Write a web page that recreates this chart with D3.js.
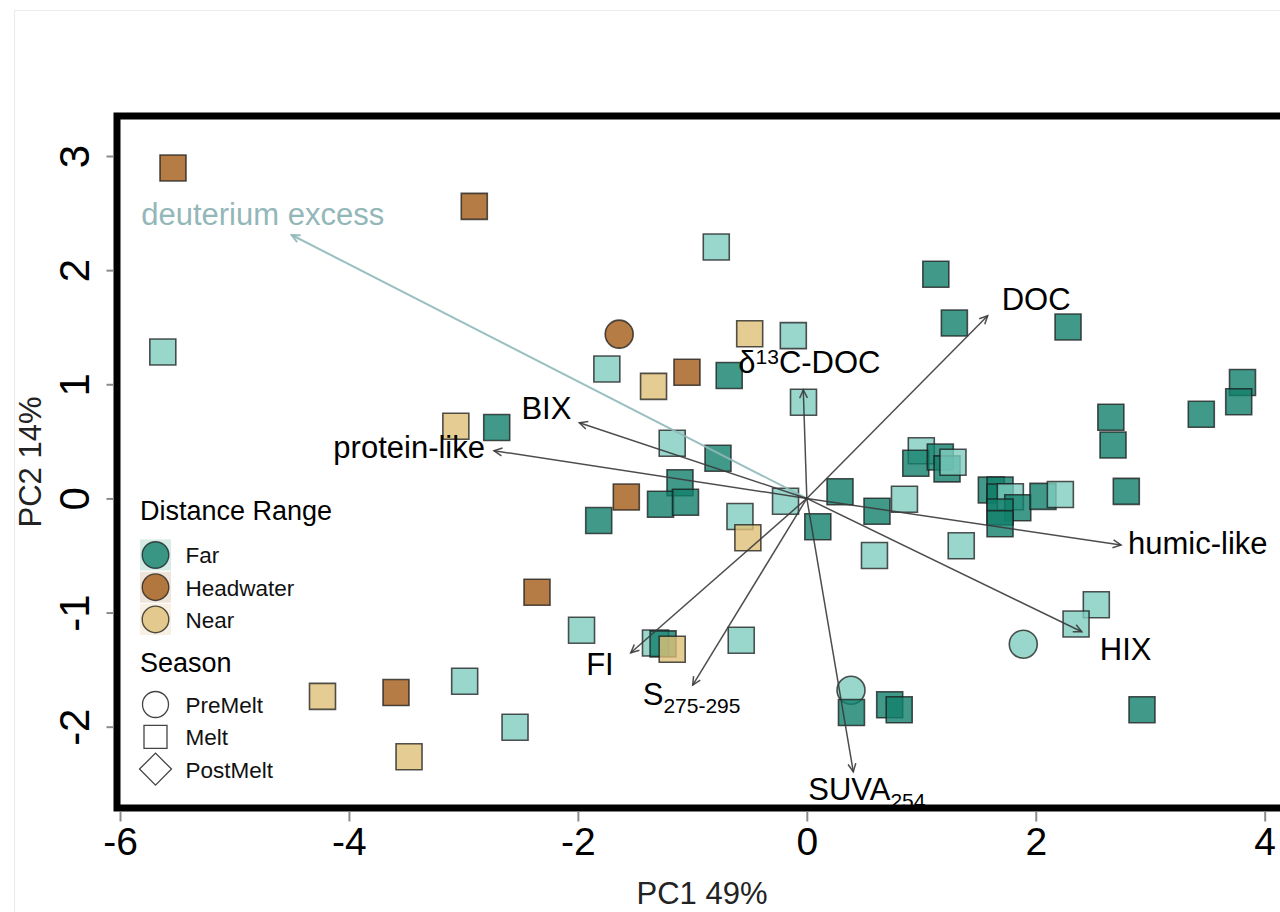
<!DOCTYPE html>
<html>
<head>
<meta charset="utf-8">
<script src="https://cdn.jsdelivr.net/npm/d3@7"></script>
<style>
  body { margin: 0; background: #fff; }
  svg { display: block; }
  text { font-family: "Liberation Sans", Arial, Helvetica, sans-serif; }
</style>
</head>
<body>
<svg id="chart" width="1280" height="912"></svg>
<script>
// ---- PCA scores for each sample ----
const pc1 = [-5.537, -2.905, -0.791, 1.127, -5.626, -1.639, -0.499, -0.118, 1.289, 2.282,
  -1.747, -1.339, -1.047, -0.678, 3.806, 3.773, 3.446, -0.029, 2.656, 2.675,
  -3.066, -2.709, -1.176, -0.776, 1.000, 0.952, 1.166, 1.225, 1.277, -1.108,
  -1.278, -1.060, -1.577, -1.818, -0.186, -0.584, -0.515, 0.096, 0.290, 0.613,
  0.853, 0.591, 1.349, 1.612, 1.688, 1.688, 1.778, 1.843, 1.688, 1.688,
  2.063, 2.215, 2.791, 2.529, 2.352, 1.891, -2.357, -1.968, -1.322, -1.256,
  -1.176, -0.573, 0.386, 0.390, 0.724, 0.807, 2.928, -2.989, -2.549, -4.231,
  -3.589, -3.475];
const pc2 = [2.895, 2.559, 2.203, 1.964, 1.283, 1.439, 1.443, 1.426, 1.537, 1.502,
  1.134, 0.982, 1.105, 1.077, 1.016, 0.847, 0.737, 0.843, 0.711, 0.468,
  0.632, 0.621, 0.483, 0.352, 0.417, 0.308, 0.363, 0.259, 0.317, 0.137,
  -0.051, -0.033, 0.012, -0.194, -0.025, -0.159, -0.345, -0.248, 0.059, -0.112,
  -0.007, -0.500, -0.415, 0.074, 0.074, 0.012, 0.015, -0.082, -0.119, -0.222,
  0.018, 0.034, 0.062, -0.931, -1.100, -1.277, -0.822, -1.155, -1.267, -1.274,
  -1.322, -1.243, -1.681, -1.876, -1.808, -1.852, -1.851, -1.602, -2.005, -1.734,
  -1.701, -2.263];
const distance = ["Headwater", "Headwater", "Far", "Far", "Far", "Headwater", "Near", "Far", "Far", "Far",
  "Far", "Near", "Headwater", "Far", "Far", "Far", "Far", "Far", "Far", "Far",
  "Near", "Far", "Far", "Far", "Far", "Far", "Far", "Far", "Far", "Far",
  "Far", "Far", "Headwater", "Far", "Far", "Far", "Near", "Far", "Far", "Far",
  "Far", "Far", "Far", "Far", "Far", "Far", "Far", "Far", "Far", "Far",
  "Far", "Far", "Far", "Far", "Far", "Far", "Headwater", "Far", "Far", "Far",
  "Near", "Far", "Far", "Far", "Far", "Far", "Far", "Far", "Far", "Near",
  "Headwater", "Near"];
const season = ["Melt", "Melt", "Melt", "Melt", "Melt", "PreMelt", "Melt", "Melt", "Melt", "Melt",
  "Melt", "Melt", "Melt", "Melt", "Melt", "Melt", "Melt", "Melt", "Melt", "Melt",
  "Melt", "Melt", "Melt", "Melt", "Melt", "Melt", "Melt", "Melt", "Melt", "Melt",
  "Melt", "Melt", "Melt", "Melt", "Melt", "Melt", "Melt", "Melt", "Melt", "Melt",
  "Melt", "Melt", "Melt", "Melt", "Melt", "Melt", "Melt", "Melt", "Melt", "Melt",
  "Melt", "Melt", "Melt", "Melt", "Melt", "PreMelt", "Melt", "Melt", "Melt", "Melt",
  "Melt", "Melt", "PreMelt", "Melt", "Melt", "Melt", "Melt", "Melt", "Melt", "Melt",
  "Melt", "Melt"];
// sampling cohort (1 = first, 2 = second) – shown as a lighter tint for far sites
const cohort = [1, 1, 2, 1, 2, 1, 1, 2, 1, 1,
  2, 1, 1, 1, 1, 1, 1, 2, 1, 1,
  1, 1, 2, 1, 2, 1, 1, 1, 2, 1,
  1, 1, 1, 1, 2, 2, 1, 1, 1, 1,
  2, 2, 2, 1, 1, 1, 2, 1, 1, 1,
  1, 2, 1, 2, 2, 2, 1, 2, 2, 1,
  1, 2, 2, 1, 1, 1, 1, 2, 2, 1,
  1, 1];

// ---- variable loadings (arrow tips in PC space) ----
const loadingNames = ["deuterium excess", "DOC", "δ^{13}C-DOC", "BIX", "protein-like",
  "humic-like", "HIX", "FI", "S_{275-295}", "SUVA_{254}"];
const loadingPC1 = [-4.500, 1.580, -0.031, -1.987, -2.733, 2.745, 2.402, -1.538, -0.997, 0.406];
const loadingPC2 = [2.308, 1.601, 0.950, 0.663, 0.418, -0.408, -1.168, -1.352, -1.635, -2.395];

// ---- axes & legend ----
const xTicks = [-6, -4, -2, 0, 2, 4];
const yTicks = [-2, -1, 0, 1, 2, 3];
const distanceLevels = ["Far", "Headwater", "Near"];
const seasonLevels = ["PreMelt", "Melt", "PostMelt"];

const svg = d3.select("#chart");

// scales
const x = d3.scaleLinear().domain([-6, 4]).range([120, 1264.7]);
const y = d3.scaleLinear().domain([-2, 3]).range([726.7, 156]);

const panel = { left: 117, top: 116, right: 1293, bottom: 808 };

// styling lookups
const fillColor = d => {
  if (d.distance === "Far") return d.cohort === 2 ? "#80cdc1" : "#127f6b";
  return d.distance === "Headwater" ? "#a35b17" : "#ddbf77";
};
const legendFill = { Far: "#127f6b", Headwater: "#a35b17", Near: "#ddbf77" };
const legendKeyBg = { Far: "#d6ebe6", Headwater: "#eee4da", Near: "#f7f0e3" };
const shapeOf = { PreMelt: d3.symbolCircle, Melt: d3.symbolSquare, PostMelt: d3.symbolSquare };
const shapeArea = { PreMelt: Math.PI * 14 * 14, Melt: 26 * 26, PostMelt: 26 * 26 };

// faint page frame
svg.append("line").attr("x1", 14.5).attr("x2", 14.5).attr("y1", 10.5).attr("y2", 912)
  .attr("stroke", "#ececec").attr("stroke-width", 1.2);
svg.append("line").attr("x1", 14.5).attr("x2", 1280).attr("y1", 10.5).attr("y2", 10.5)
  .attr("stroke", "#ececec").attr("stroke-width", 1.2);

// ---- sample points ----
const samples = pc1.map((v, i) => ({
  pc1: v, pc2: pc2[i], distance: distance[i], season: season[i], cohort: cohort[i]
}));

svg.append("g").selectAll("path").data(samples).join("path")
  .attr("d", d => d3.symbol().type(shapeOf[d.season]).size(shapeArea[d.season])())
  .attr("transform", d => `translate(${x(d.pc1)},${y(d.pc2)})`)
  .attr("fill", fillColor)
  .attr("fill-opacity", 0.8)
  .attr("stroke", "#1a1a1a")
  .attr("stroke-opacity", 0.75)
  .attr("stroke-width", 1.6);

// ---- loading arrows ----
const loadings = loadingNames.map((n, i) => ({ name: n, pc1: loadingPC1[i], pc2: loadingPC2[i] }));
const labelPlacement = {
  "deuterium excess": { anchor: "middle", dx: -29, dy: -10 },
  "DOC": { anchor: "start", dx: 14, dy: -6 },
  "δ^{13}C-DOC": { anchor: "start", dx: -65, dy: -17 },
  "BIX": { anchor: "end", dx: -8, dy: -4 },
  "protein-like": { anchor: "end", dx: -9, dy: 7 },
  "humic-like": { anchor: "start", dx: 7, dy: 9 },
  "HIX": { anchor: "start", dx: 18, dy: 28 },
  "FI": { anchor: "end", dx: -17, dy: 22 },
  "S_{275-295}": { anchor: "start", dx: -50, dy: 20 },
  "SUVA_{254}": { anchor: "start", dx: -45, dy: 28 }
};
const arrowColor = n => n === "deuterium excess" ? "#8fb8b8" : "#3a3a3a";

const gArrows = svg.append("g");
const ox = x(0), oy = y(0);
loadings.forEach(d => {
  const tx = x(d.pc1), ty = y(d.pc2);
  const ang = Math.atan2(ty - oy, tx - ox);
  const col = arrowColor(d.name);
  const g = gArrows.append("g").attr("stroke", col).attr("fill", "none")
    .attr("stroke-width", d.name === "deuterium excess" ? 2 : 1.5)
    .attr("stroke-opacity", 0.9);
  g.append("line").attr("x1", ox).attr("y1", oy).attr("x2", tx).attr("y2", ty);
  const head = 9, spread = Math.PI / 7;
  const p1 = [tx - head * Math.cos(ang - spread), ty - head * Math.sin(ang - spread)];
  const p2 = [tx - head * Math.cos(ang + spread), ty - head * Math.sin(ang + spread)];
  g.append("path").attr("d", `M${p1[0]},${p1[1]}L${tx},${ty}L${p2[0]},${p2[1]}`)
    .attr("stroke-linejoin", "miter");
});

// labels with sub/superscripts written as _{..} and ^{..}
function labelParts(s) {
  const out = [];
  const re = /([_^])\{([^}]*)\}/g;
  let last = 0, m;
  while ((m = re.exec(s)) !== null) {
    if (m.index > last) out.push({ t: s.slice(last, m.index), k: "base" });
    out.push({ t: m[2], k: m[1] === "_" ? "sub" : "sup" });
    last = re.lastIndex;
  }
  if (last < s.length) out.push({ t: s.slice(last), k: "base" });
  return out;
}

const gLabels = svg.append("g");
loadings.forEach(d => {
  const pl = labelPlacement[d.name];
  const txt = gLabels.append("text")
    .attr("x", x(d.pc1) + pl.dx).attr("y", y(d.pc2) + pl.dy)
    .attr("text-anchor", pl.anchor)
    .attr("font-size", 31)
    .attr("fill", d.name === "deuterium excess" ? "#93b7b8" : "#000");
  let shift = 0;
  labelParts(d.name).forEach(p => {
    const target = p.k === "sub" ? 8 : p.k === "sup" ? -9 : 0;
    txt.append("tspan")
      .attr("dy", target - shift)
      .attr("font-size", p.k === "base" ? 31 : 21)
      .text(p.t);
    shift = target;
  });
});

// ---- legend ----
const gLeg = svg.append("g");
gLeg.append("text").attr("x", 140).attr("y", 520).attr("font-size", 27).text("Distance Range");
distanceLevels.forEach((lv, i) => {
  const cy = 555 + i * 32.2;
  gLeg.append("rect").attr("x", 140).attr("y", cy - 15.5).attr("width", 31).attr("height", 31)
    .attr("fill", legendKeyBg[lv]);
  gLeg.append("path")
    .attr("d", d3.symbol().type(d3.symbolCircle).size(Math.PI * 13.3 * 13.3)())
    .attr("transform", `translate(155.5,${cy})`)
    .attr("fill", legendFill[lv]).attr("fill-opacity", 0.8)
    .attr("stroke", "#1a1a1a").attr("stroke-opacity", 0.75).attr("stroke-width", 1.4);
  gLeg.append("text").attr("x", 185.5).attr("y", cy + 8.3).attr("font-size", 22.5).attr("fill", "#111").text(lv);
});
gLeg.append("text").attr("x", 140).attr("y", 671.5).attr("font-size", 27).text("Season");
seasonLevels.forEach((lv, i) => {
  const cy = 704.5 + i * 32.3;
  let path;
  if (lv === "PreMelt") path = d3.symbol().type(d3.symbolCircle).size(Math.PI * 13 * 13)();
  else if (lv === "Melt") path = d3.symbol().type(d3.symbolSquare).size(23 * 23)();
  else path = d3.symbol().type(d3.symbolSquare).size(22.6 * 22.6)();
  gLeg.append("path").attr("d", path)
    .attr("transform", `translate(155.5,${cy})${lv === "PostMelt" ? " rotate(45)" : ""}`)
    .attr("fill", "none").attr("stroke", "#444").attr("stroke-width", 1.3);
  gLeg.append("text").attr("x", 185.5).attr("y", cy + 8.5).attr("font-size", 22.5).attr("fill", "#111").text(lv);
});

// ---- panel border (drawn over the marks) ----
svg.append("rect")
  .attr("x", panel.left).attr("y", panel.top)
  .attr("width", panel.right - panel.left).attr("height", panel.bottom - panel.top)
  .attr("fill", "none").attr("stroke", "#000").attr("stroke-width", 7);

// ---- axes ----
const xAxis = svg.append("g").attr("transform", `translate(0,${panel.bottom + 3.5})`)
  .call(d3.axisBottom(x).tickValues(xTicks).tickSize(10).tickFormat(d3.format("d")));
xAxis.select(".domain").remove();
xAxis.selectAll(".tick line").attr("stroke", "#8a8a8a").attr("stroke-width", 2);
xAxis.selectAll(".tick text").attr("y", 43.5).attr("dy", null)
  .attr("font-size", 39).attr("fill", "#000")
  .attr("font-family", "\"Liberation Sans\", Arial, sans-serif")
  .text(d => d < 0 ? "-" + Math.abs(d) : d);

const yAxis = svg.append("g").attr("transform", `translate(${panel.left - 3.5},0)`)
  .call(d3.axisLeft(y).tickValues(yTicks).tickSize(7).tickFormat(d3.format("d")));
yAxis.select(".domain").remove();
yAxis.selectAll(".tick line").attr("stroke", "#8a8a8a").attr("stroke-width", 2);
yAxis.selectAll(".tick text")
  .attr("x", null).attr("dy", null)
  .attr("transform", "translate(-25,0) rotate(-90)")
  .attr("text-anchor", "middle")
  .attr("font-size", 42).attr("fill", "#000")
  .attr("font-family", "\"Liberation Sans\", Arial, sans-serif")
  .text(d => d < 0 ? "-" + Math.abs(d) : d);

// axis titles
svg.append("text").attr("x", 702).attr("y", 904).attr("text-anchor", "middle")
  .attr("font-size", 31).attr("fill", "#222").text("PC1 49%");
svg.append("text").attr("transform", "translate(41,462) rotate(-90)").attr("text-anchor", "middle")
  .attr("font-size", 31).attr("fill", "#222").text("PC2 14%");
</script>
</body>
</html>
